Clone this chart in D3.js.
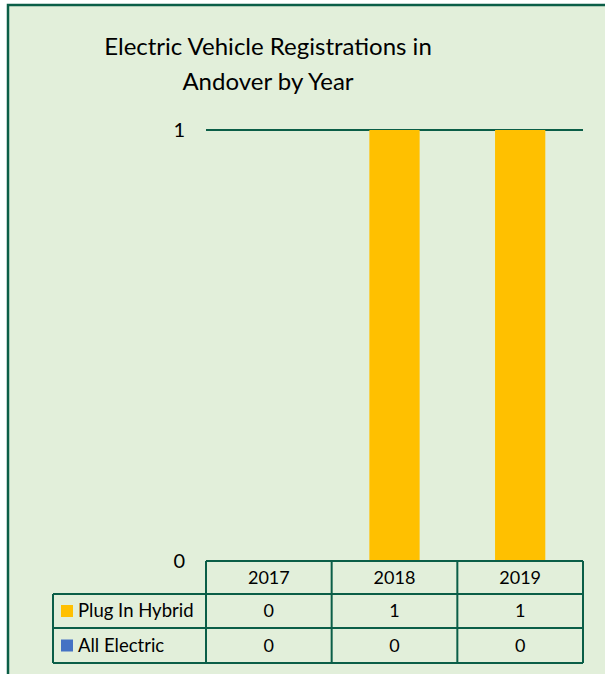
<!DOCTYPE html>
<html lang="en">
  <head>
    <meta charset="UTF-8" />
    <title>Electric Vehicle Registrations in Andover by Year</title>
    <script src="https://d3js.org/d3.v7.min.js"></script>
    <style>
      body { margin: 0; background: #fff; }
      svg text { font-family: Lato, "Open Sans", sans-serif; fill: #000; }
    </style>
  </head>
  <body>
    <svg id="chart" width="605" height="674"></svg>
    <script>
      const years = ["2017", "2018", "2019"];
      const plugInHybrid = [0, 1, 1];
      const allElectric = [0, 0, 0];
      const seriesNames = ["Plug In Hybrid", "All Electric"];
      const yTicks = [0, 1];

      const colors = { "Plug In Hybrid": "#FFC000", "All Electric": "#4472C4" };
      const green = "#0B5E47";

      const svg = d3.select("#chart");

      // chart area background and frame (cut off at right/bottom like the source)
      svg.append("rect").attr("x", 0).attr("y", 0).attr("width", 605).attr("height", 674).attr("fill", "#fff");
      svg.append("rect")
        .attr("x", 8).attr("y", 5).attr("width", 610).attr("height", 680)
        .attr("fill", "#E2EFDA").attr("stroke", green).attr("stroke-width", 2.5);

      const table = years.map((yr, i) => ({
        year: yr,
        "Plug In Hybrid": plugInHybrid[i],
        "All Electric": allElectric[i],
      }));

      const x = d3.scaleBand().domain(years).range([206, 583]).paddingInner(0.6).paddingOuter(0.3);
      const y = d3.scaleLinear().domain([0, 1]).range([561, 130]);

      // title
      const title = svg.append("text").attr("text-anchor", "middle").style("font-size", "24px");
      title.append("tspan").attr("x", 268).attr("y", 55).text("Electric Vehicle Registrations in");
      title.append("tspan").attr("x", 268).attr("y", 90).text("Andover by Year");

      // gridline + y labels
      svg.selectAll(".grid").data(yTicks.filter((t) => t > 0)).join("line")
        .attr("x1", 206).attr("x2", 583)
        .attr("y1", (d) => y(d)).attr("y2", (d) => y(d))
        .attr("stroke", green).attr("stroke-width", 2);

      svg.selectAll(".ylab").data(yTicks).join("text")
        .attr("x", 185).attr("y", (d) => y(d)).attr("dy", "0.35em")
        .attr("text-anchor", "end").style("font-size", "20px")
        .text((d) => d);

      // stacked bars
      const stack = d3.stack().keys(seriesNames)(table);
      svg.selectAll(".series").data(stack).join("g")
        .attr("fill", (d) => colors[d.key])
        .selectAll("rect").data((d) => d).join("rect")
        .attr("x", (d) => x(d.data.year))
        .attr("width", x.bandwidth())
        .attr("y", (d) => y(d[1]))
        .attr("height", (d) => y(d[0]) - y(d[1]));

      // data table
      const step = x.step();
      const left0 = x.range()[0];
      const right0 = x.range()[1];
      const legendLeft = 53;
      const rowTop = [561, 594, 628, 663];

      const g = svg.append("g").attr("stroke", green).attr("stroke-width", 2).attr("fill", "none");
      g.append("line").attr("x1", left0).attr("x2", right0).attr("y1", rowTop[0]).attr("y2", rowTop[0]);
      [1, 2, 3].forEach((r) =>
        g.append("line").attr("x1", legendLeft).attr("x2", right0).attr("y1", rowTop[r]).attr("y2", rowTop[r])
      );
      g.append("line").attr("x1", legendLeft).attr("x2", legendLeft).attr("y1", rowTop[1]).attr("y2", rowTop[3]);
      d3.range(years.length + 1).forEach((i) => {
        const xx = left0 + i * step;
        g.append("line").attr("x1", xx).attr("x2", xx).attr("y1", rowTop[0]).attr("y2", rowTop[3]);
      });

      svg.selectAll(".yr").data(years).join("text")
        .attr("x", (d) => x(d) + x.bandwidth() / 2)
        .attr("y", (rowTop[0] + rowTop[1]) / 2).attr("dy", "0.35em")
        .attr("text-anchor", "middle").style("font-size", "18px")
        .text((d) => d);

      seriesNames.forEach((name, r) => {
        const cy = (rowTop[r + 1] + rowTop[r + 2]) / 2;
        svg.append("rect").attr("x", 61).attr("y", cy - 6).attr("width", 12).attr("height", 12)
          .attr("fill", colors[name]);
        svg.append("text").attr("x", 78).attr("y", cy).attr("dy", "0.35em")
          .style("font-size", "18.5px").text(name);
        svg.selectAll(null).data(table).join("text")
          .attr("x", (d) => x(d.year) + x.bandwidth() / 2)
          .attr("y", cy).attr("dy", "0.35em")
          .attr("text-anchor", "middle").style("font-size", "18px")
          .text((d) => d[name]);
      });
    </script>
  </body>
</html>
